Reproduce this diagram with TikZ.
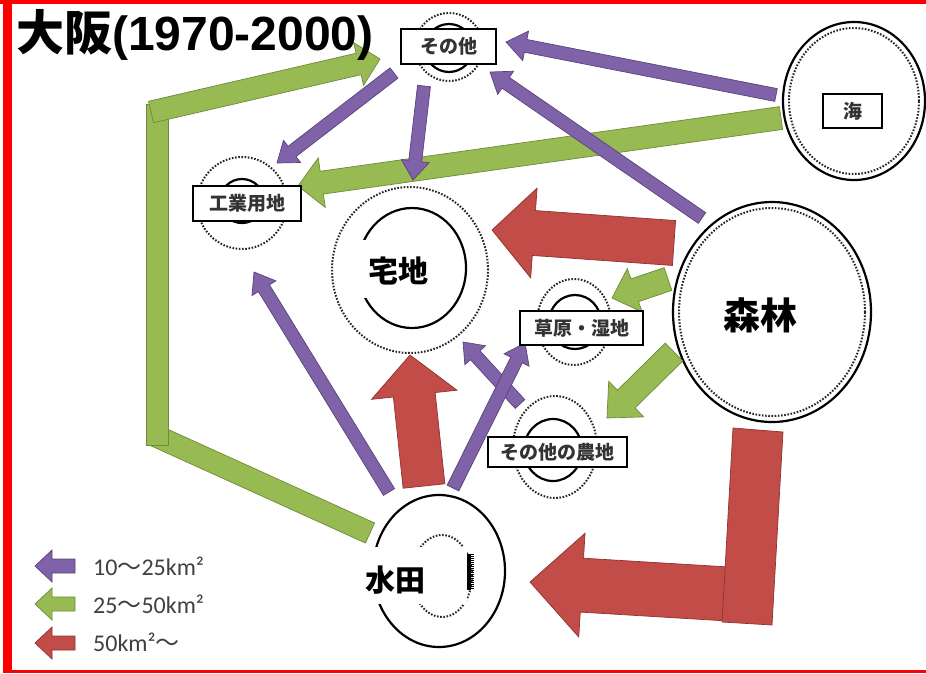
\documentclass[tikz,border=0pt]{standalone}
\usepackage{fontspec}
\setmainfont{Liberation Sans}
\newfontfamily\jp{Noto Sans CJK JP}
\newfontfamily\legendfont{Carlito}
\usetikzlibrary{calc}
\definecolor{pur}{HTML}{8062A8}
\definecolor{purd}{HTML}{5A437A}
\definecolor{grn}{HTML}{98BA52}
\definecolor{grnd}{HTML}{6E8A3A}
\definecolor{redf}{HTML}{C24C47}
\definecolor{redd}{HTML}{8E3331}
\definecolor{framered}{HTML}{FF0000}
% #1 style, #2 tail, #3 tip, #4 shaft half width, #5 head half width, #6 head length
\newcommand\fatarrow[6]{%
  \filldraw[#1] ($(#2)!#4!90:(#3)$) -- ($(#3)!#6!(#2)!#4!-90:(#2)$) -- ($(#3)!#6!(#2)!#5!-90:(#2)$) -- (#3) -- ($(#3)!#6!(#2)!#5!90:(#2)$) -- ($(#3)!#6!(#2)!#4!90:(#2)$) -- ($(#2)!#4!-90:(#3)$) -- cycle;}
\begin{document}
\begin{tikzpicture}[x=1pt,y=-1pt,
  parr/.style={fill=pur, draw=purd, line width=0.7pt, line join=miter},
  garr/.style={fill=grn, draw=grnd, line width=0.7pt, line join=miter},
  rarr/.style={fill=redf, draw=redd, line width=0.7pt, line join=miter},
  ringsolid/.style={draw=black, line width=2.2pt},
  ringdot/.style={draw=black!85, line width=2pt, dash pattern=on 1.6pt off 1.6pt},
  lbox/.style={draw=black, line width=2.8pt, fill=white, inner sep=0pt, font=\jp\bfseries\fontsize{19}{19}\selectfont, text=black!80},
  bigl/.style={inner sep=0pt, text=black},
  legtxt/.style={anchor=base west, font=\legendfont\fontsize{24}{24}\selectfont, text=black!75, inner sep=0pt}]
\useasboundingbox (0,0) rectangle (926,673);
\fill[white] (0,0) rectangle (926,673);
% frame
\fill[framered] (0,0) rectangle (926,3.5);
\fill[framered] (3,0) rectangle (11.5,673);
\fill[framered] (3,669.5) rectangle (926,673);

% centres
\coordinate (cSono) at (449,47);
\coordinate (cKogyo) at (242,203);
\coordinate (cTaku) at (410,270);
\coordinate (cSogen) at (574,322);
\coordinate (cNochi) at (555,447);
\coordinate (cUmi) at (854,101);
\coordinate (cShin) at (772,312);
\coordinate (cSui) at (439,571);

% rings
\draw[ringdot] (cSono) ellipse [x radius=34pt, y radius=34pt];
\draw[ringsolid] ($(cSono)+(0,1)$) ellipse [x radius=24pt, y radius=24pt];
\draw[ringdot] (cKogyo) ellipse [x radius=45pt, y radius=46pt];
\draw[ringsolid] ($(cKogyo)+(0,-2)$) ellipse [x radius=22pt, y radius=22pt];
\draw[ringdot] (cTaku) ellipse [x radius=78pt, y radius=83pt];
\draw[ringsolid] ($(cTaku)+(2,-2)$) ellipse [x radius=54pt, y radius=60pt];
\draw[ringdot] (cSogen) ellipse [x radius=37pt, y radius=43pt];
\draw[ringsolid] ($(cSogen)+(1,0)$) ellipse [x radius=26pt, y radius=27pt];
\draw[ringdot] (cNochi) ellipse [x radius=42pt, y radius=51pt];
\draw[ringsolid] ($(cNochi)+(-2,3)$) ellipse [x radius=29pt, y radius=31pt];
\draw[ringsolid] (cUmi) ellipse [x radius=71pt, y radius=79pt];
\draw[ringdot] (cUmi) ellipse [x radius=65pt, y radius=73pt];
\draw[ringsolid] (cShin) ellipse [x radius=99pt, y radius=110pt];
\draw[ringdot] (cShin) ellipse [x radius=93pt, y radius=104pt];
\draw[ringsolid] (cSui) ellipse [x radius=66pt, y radius=76pt];
\draw[ringdot] ($(cSui)+(3,5)$) ellipse [x radius=30pt, y radius=41pt];

% arrow ends
\coordinate (g2a) at (156,436); \coordinate (g2b) at (370,533);
\coordinate (g2ts) at (151,112); \coordinate (g2te) at (380,59);
\coordinate (g1s) at (781,118); \coordinate (g1e) at (298,186);
\coordinate (g3s) at (668,279); \coordinate (g3e) at (612,298);
\coordinate (g4s) at (674,352); \coordinate (g4e) at (607,418);
\coordinate (r1s) at (674,243); \coordinate (r1e) at (492,230);
\coordinate (r2s) at (424,486); \coordinate (r2e) at (410,355);
\coordinate (r3s) at (745,595); \coordinate (r3e) at (530,582);
\coordinate (p1s) at (776,95);  \coordinate (p1e) at (506,42);
\coordinate (p2s) at (702,218); \coordinate (p2e) at (490,72);
\coordinate (p3s) at (394,73);  \coordinate (p3e) at (277,163);
\coordinate (p4s) at (424,86);  \coordinate (p4e) at (413,180);
\coordinate (p5s) at (389,492); \coordinate (p5e) at (254,272);
\coordinate (p6s) at (453,488); \coordinate (p6e) at (525,343);
\coordinate (p7s) at (520,404); \coordinate (p7e) at (463,342);

% green
\filldraw[garr] ($(g2a)!11pt!90:(g2b)$) -- ($(g2b)!11pt!-90:(g2a)$) -- ($(g2b)!11pt!90:(g2a)$) -- ($(g2a)!11pt!-90:(g2b)$) -- cycle;
\filldraw[garr] (146,104) rectangle (168,445);
\fatarrow{garr}{g2ts}{g2te}{11pt}{22pt}{22pt}
\fatarrow{garr}{g1s}{g1e}{11.5pt}{25pt}{24pt}
\fatarrow{garr}{g3s}{g3e}{12pt}{23pt}{24pt}
\fatarrow{garr}{g4s}{g4e}{12.5pt}{25pt}{27pt}

% red
\fatarrow{rarr}{r1s}{r1e}{22.5pt}{45pt}{42pt}
\fatarrow{rarr}{r2s}{r2e}{21pt}{43pt}{40pt}
\fatarrow{rarr}{r3s}{r3e}{27pt}{52pt}{52pt}
\filldraw[rarr] (733,428) -- (783,432) -- (772,625) -- (722,622) -- cycle;

% purple
\fatarrow{parr}{p7s}{p7e}{6.5pt}{14pt}{18pt}
\fatarrow{parr}{p6s}{p6e}{6.5pt}{14pt}{19pt}
\fatarrow{parr}{p1s}{p1e}{6.5pt}{15pt}{20pt}
\fatarrow{parr}{p2s}{p2e}{6.5pt}{14pt}{19pt}
\fatarrow{parr}{p3s}{p3e}{6.5pt}{14pt}{19pt}
\fatarrow{parr}{p4s}{p4e}{6.5pt}{14pt}{19pt}
\fatarrow{parr}{p5s}{p5e}{6.5pt}{14pt}{19pt}

% boxes
\node[lbox, minimum width=95pt, minimum height=35pt] (sono) at (448.5,46.5) {その他};
\node[lbox, minimum width=108pt, minimum height=35pt] (kogyo) at (247,203.5) {工業用地};
\node[lbox, minimum width=123pt, minimum height=34pt] (sogen) at (581.5,328) {草原・湿地};
\node[lbox, minimum width=139pt, minimum height=30pt] (nochi) at (557.5,452) {その他の農地};
\node[lbox, minimum width=59pt, minimum height=34pt] (umi) at (852.5,111) {海};

% big labels
\fill[white] (346,240) rectangle (436,298);
\node[bigl, font=\jp\bfseries\fontsize{30}{30}\selectfont] (taku) at (398,271) {宅地};
\node[bigl, font=\jp\bfseries\fontsize{37}{37}\selectfont] (shin) at (760,315) {森林};
\fill[white] (345,547) rectangle (467,604);
\fill[black] (467,554) rectangle (471,590);
\draw[line width=3pt, dash pattern=on 1pt off 1pt] (472.5,554) -- (472.5,590);
\node[bigl, font=\jp\bfseries\fontsize{30}{30}\selectfont] (sui) at (395,580) {水田};

% title
\node[anchor=base west, inner sep=0pt, font=\bfseries\fontsize{48}{48}\selectfont] (title) at (16,50) {{\jp\bfseries 大阪}(1970-2000)};

% legend
\coordinate (l1s) at (75,566); \coordinate (l1e) at (35,566);
\coordinate (l2s) at (75,604); \coordinate (l2e) at (35,604);
\coordinate (l3s) at (75,643); \coordinate (l3e) at (35,643);
\fatarrow{parr}{l1s}{l1e}{7pt}{16pt}{17pt}
\fatarrow{garr}{l2s}{l2e}{7pt}{16pt}{17pt}
\fatarrow{rarr}{l3s}{l3e}{7pt}{16pt}{17pt}
\node[legtxt] (leg1) at (93,575) {10{\jp ～}25km²};
\node[legtxt] (leg2) at (93,613) {25{\jp ～}50km²};
\node[legtxt] (leg3) at (93,651) {50km²{\jp ～}};
\end{tikzpicture}
\end{document}
